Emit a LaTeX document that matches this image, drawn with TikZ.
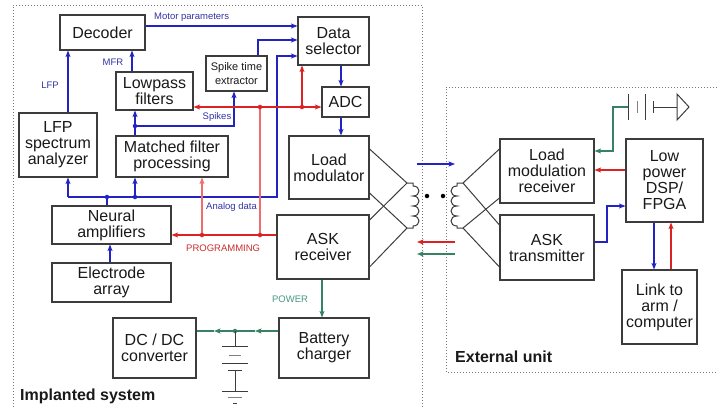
\documentclass[tikz,border=0pt]{standalone}
\usepackage{fontspec}
\setmainfont{Liberation Sans}
\usetikzlibrary{arrows.meta}
\definecolor{boxc}{RGB}{60,60,60}
\definecolor{txtc}{RGB}{25,25,25}
\definecolor{bluec}{RGB}{35,35,195}
\definecolor{bluel}{RGB}{50,50,165}
\definecolor{redc}{RGB}{220,35,35}
\definecolor{redp}{RGB}{238,110,110}
\definecolor{redl}{RGB}{200,45,45}
\definecolor{greenc}{RGB}{55,130,100}
\definecolor{greenl}{RGB}{70,150,130}
\definecolor{dotc}{RGB}{120,120,120}
\begin{document}
\begin{tikzpicture}[x=1pt,y=-1pt,
  box/.style={draw=boxc, line width=1.1pt, inner sep=0pt, align=center, text=txtc,
    font=\fontsize{16}{16}\selectfont},
  lbl/.style={inner sep=0pt, font=\fontsize{9.5}{10}\selectfont},
  ttl/.style={inner sep=0pt, anchor=west, text=txtc, font=\fontsize{16}{16}\selectfont\bfseries},
  bl/.style={draw=bluec, line width=1.1pt},
  rd/.style={draw=redc, line width=1.1pt},
  rdp/.style={draw=redp, line width=1.1pt},
  gr/.style={draw=greenc, line width=1.1pt},
  wire/.style={draw=boxc, line width=1pt},
  arr/.style={-{Stealth[length=6.5pt,width=5pt,inset=1.5pt]}},
  jdot/.style={circle, inner sep=0pt, minimum size=4.5pt},
  frame/.style={draw=dotc, line width=1pt, dash pattern=on 1pt off 2pt}
]
\useasboundingbox (0,0) rectangle (717,407);

% frames
\draw[frame] (13,410) -- (13,5) -- (422,5) -- (422,410);
\draw[frame] (717,87) -- (446,87) -- (446,372) -- (717,372);
\node[ttl] (timpl) at (20,396) {Implanted system};
\node[ttl] (text) at (455,357) {External unit};

% boxes
\node[box, minimum width=85pt, minimum height=35pt] (dec) at (102.5,32.5) {Decoder};
\node[box, minimum width=77pt, minimum height=38pt] (lpf) at (154.5,91) {Lowpass\\filters};
\node[box, minimum width=61pt, minimum height=35pt, font=\fontsize{11}{14}\selectfont] (ste) at (236.5,73.5) {Spike time\\extractor};
\node[box, minimum width=71pt, minimum height=48pt] (dsel) at (333.5,41) {Data\\selector};
\node[box, minimum width=47pt, minimum height=30pt] (adc) at (345.5,102) {ADC};
\node[box, minimum width=78pt, minimum height=64pt] (lfp) at (58,145) {LFP\\spectrum\\analyzer};
\node[box, minimum width=112pt, minimum height=41pt] (mfp) at (172,156.5) {Matched filter\\processing};
\node[box, minimum width=119pt, minimum height=38pt] (namp) at (111.5,225) {Neural\\amplifiers};
\node[box, minimum width=119pt, minimum height=39pt] (elec) at (111.5,282.5) {Electrode\\array};
\node[box, minimum width=80pt, minimum height=63pt] (lmod) at (329,167.5) {Load\\modulator};
\node[box, minimum width=92pt, minimum height=64pt] (askr) at (323,247) {ASK\\receiver};
\node[box, minimum width=90pt, minimum height=60pt] (batt) at (324,348) {Battery\\charger};
\node[box, minimum width=83pt, minimum height=60pt] (dcdc) at (154.5,348) {DC / DC\\converter};
\node[box, minimum width=94pt, minimum height=64pt] (lmr) at (547,171) {Load\\modulation\\receiver};
\node[box, minimum width=77pt, minimum height=83pt] (dsp) at (664.5,180.5) {Low\\power\\DSP/\\FPGA};
\node[box, minimum width=94pt, minimum height=65pt] (askt) at (547,247.5) {ASK\\transmitter};
\node[box, minimum width=75pt, minimum height=74pt] (link) at (659.5,307) {Link to\\arm /\\computer};

% labels
\node[lbl, text=bluel, anchor=west] (lmp) at (154,17) {Motor parameters};
\node[lbl, text=bluel] (lmfr) at (113,62) {MFR};
\node[lbl, text=bluel] (llfp) at (50,85) {LFP};
\node[lbl, text=bluel] (lspk) at (217,117) {Spikes};
\node[lbl, text=bluel, anchor=west] (lana) at (206,207) {Analog data};
\node[lbl, text=redl, anchor=west] (lprog) at (186,248) {PROGRAMMING};
\node[lbl, text=greenl] (lpow) at (290,299) {POWER};

% blue connectors
\draw[bl,arr] (dec.east |- 0,26) -- (dsel.west |- 0,26);
\draw[bl,arr] (258,0 |- ste.north) -- (258,40) -- (dsel.west |- 0,40);
\coordinate (jb1) at (107,197);
\coordinate (jb2) at (135,197);
\coordinate (jb3) at (135,126);
\draw[bl,arr] (68,197) -- (277,197) -- (277,56) -- (dsel.west |- 0,56);
\draw[bl,arr] (68,197) -- (lfp.south -| 68,0);
\draw[bl,arr] (jb2) -- (mfp.south -| 135,0);
\draw[bl] (namp.north -| 107,0) -- (jb1);
\draw[bl,arr] (elec.north -| 110,0) -- (namp.south -| 110,0);
\draw[bl,arr] (mfp.north -| 135,0) -- (lpf.south -| 135,0);
\draw[bl,arr] (jb3) -- (234,126) -- (ste.south -| 234,0);
\draw[bl,arr] (lpf.north -| 132,0) -- (dec.south -| 132,0);
\draw[bl,arr] (lfp.north -| 68,0) -- (dec.south -| 68,0);
\draw[bl,arr] (dsel.south -| 341,0) -- (adc.north -| 341,0);
\draw[bl,arr] (adc.south -| 341,0) -- (lmod.north -| 341,0);
\node[jdot, fill=bluec] at (jb1) {};
\node[jdot, fill=bluec] at (jb2) {};
\node[jdot, fill=bluec] at (jb3) {};

% red connectors
\coordinate (jr1) at (302,107);
\coordinate (jr2) at (260,107);
\coordinate (jr3) at (260,235);
\coordinate (jr4) at (202,235);
\draw[rd,arr] (jr1) -- (adc.west |- 0,107);
\draw[rd,arr] (jr1) -- (dsel.south -| 302,0);
\draw[rd,arr] (jr1) -- (lpf.east |- 0,107);
\draw[rdp] (jr3) -- (jr2);
\draw[rd,arr] (askr.west |- 0,235) -- (namp.east |- 0,235);
\draw[rdp,arr] (jr4) -- (mfp.south -| 202,0);
\node[jdot, fill=redc] at (jr1) {};
\node[jdot, fill=redc] at (jr2) {};
\node[jdot, fill=redc] at (jr3) {};
\node[jdot, fill=redc] at (jr4) {};

% green connectors (implanted)
\draw[gr,arr] (askr.south -| 322,0) -- (batt.north -| 322,0);
\coordinate (jg1) at (235,331);
\draw[gr,arr] (batt.west |- 0,331) -- (255,331);
\draw[gr] (255,331) -- (jg1);
\draw[gr,arr] (jg1) -- (214,331);
\draw[gr] (214,331) -- (dcdc.east |- 0,331);
\node[jdot, fill=greenc] at (jg1) {};
% implanted battery
\draw[wire] (jg1) -- (235,346);
\draw[wire] (222,346) -- (248,346);
\draw[draw=gray, line width=1pt] (229,355) -- (241,355);
\draw[wire] (222,363) -- (248,363);
\draw[wire] (228,370) -- (242,370);
\draw[wire] (235,370) -- (235,391);
\draw[wire] (222,391) -- (248,391);
\draw[draw=gray, line width=1pt] (228,397) -- (242,397);
\draw[wire] (233,403) -- (237,403);

% coils and wires
\coordinate (ca) at (407,183);
\coordinate (cb) at (407,228);
\coordinate (cc) at (463,183);
\coordinate (cd) at (463,228);
\draw[wire] (lmod.east |- 0,149) -- (ca);
\draw[wire] (lmod.east |- 0,193) -- (cb);
\draw[wire] (askr.east |- 0,220) -- (ca);
\draw[wire] (askr.east |- 0,267) -- (cb);
\draw[wire] (ca) -- (413,183) -- (413,186)
  .. controls (421,186) and (421,196) .. (413,196)
  .. controls (421,196) and (421,206) .. (413,206)
  .. controls (421,206) and (421,216) .. (413,216)
  .. controls (421,216) and (421,226) .. (413,226)
  -- (413,228) -- (cb);
\draw[wire] (lmr.west |- 0,149) -- (cc);
\draw[wire] (lmr.west |- 0,198) -- (cd);
\draw[wire] (askt.west |- 0,225) -- (cc);
\draw[wire] (askt.west |- 0,267) -- (cd);
\draw[wire] (cc) -- (457,183) -- (457,186)
  .. controls (449,186) and (449,196) .. (457,196)
  .. controls (449,196) and (449,206) .. (457,206)
  .. controls (449,206) and (449,216) .. (457,216)
  .. controls (449,216) and (449,226) .. (457,226)
  -- (457,228) -- (cd);
\node[jdot, fill=black] (dot1) at (427,196) {};
\node[jdot, fill=black] (dot2) at (443,196) {};

% link arrows
\coordinate (xa1) at (417,164);
\coordinate (xa2) at (455,164);
\coordinate (xb1) at (455,242);
\coordinate (xb2) at (417,242);
\coordinate (xc1) at (455,254);
\coordinate (xc2) at (417,254);
\draw[bl,arr] (xa1) -- (xa2);
\draw[rd,arr] (xb1) -- (xb2);
\draw[gr,arr] (xc1) -- (xc2);

% external connectors
\coordinate (eb) at (628,107);
\draw[gr,arr] (eb) -- (613,107) -- (613,151) -- (lmr.east |- 0,151);
\draw[wire] (628,94) -- (628,120);
\draw[draw=gray, line width=1pt] (637,101) -- (637,113);
\draw[wire] (645,94) -- (645,120);
\draw[wire] (653,101) -- (653,113);
\draw[wire] (653,107) -- (677,107);
\draw[wire, line join=miter] (677,94) -- (689,107) -- (677,120) -- cycle;
\draw[rd,arr] (dsp.west |- 0,170) -- (lmr.east |- 0,170);
\draw[bl,arr] (askt.east |- 0,242) -- (607,242) -- (607,206) -- (dsp.west |- 0,206);
\draw[bl,arr] (dsp.south -| 654,0) -- (link.north -| 654,0);
\draw[rd,arr] (link.north -| 671,0) -- (dsp.south -| 671,0);
\end{tikzpicture}
\end{document}
